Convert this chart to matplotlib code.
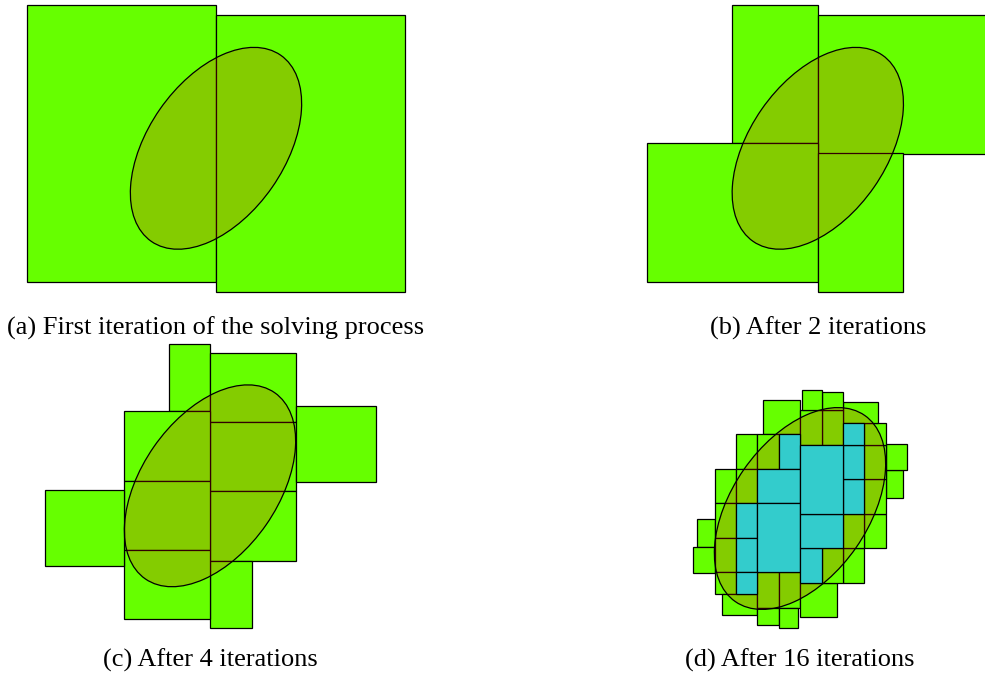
#!/usr/bin/env python3
"""
Paving of an ellipse by interval boxes, four stages of the solver.
"""

import matplotlib
matplotlib.use('Agg')  # no display
import matplotlib.pyplot as plt
from matplotlib.patches import Rectangle, Ellipse

plt.rcParams['font.family'] = ['Liberation Serif', 'DejaVu Serif']

FIG_W, FIG_H = 985, 677
DPI = 100

GREEN = '#66ff00'
CYAN = '#33cccc'

# the constraint: tilted ellipse centred on the origin (world units)
ELLIPSE_WIDTH = 226.7
ELLIPSE_HEIGHT = 136.7
ELLIPSE_ANGLE = 55.2

# boxes as (x0, x1, y0, y1) in world units, origin = ellipse centre
boxes_a = [
    (-189.0, 0.0, -133.5, 143.5),
    (0.0, 189.0, -143.5, 133.5),
]

boxes_b = [
    (-85.5, 0.0, 5.2, 143.5),
    (0.0, 171.0, -5.2, 133.5),
    (-171.0, 0.0, -133.5, 5.2),
    (0.0, 85.5, -143.5, -5.2),
]

boxes_c = [
    (-41.5, 0.0, 74.7, 141.8),
    (0.0, 85.7, 63.8, 133.3),
    (0.0, 85.7, -5.3, 63.8),
    (0.0, 85.7, -74.7, -5.3),
    (0.0, 41.5, -141.8, -74.7),
    (85.7, 165.5, 4.3, 80.3),
    (-85.7, 0.0, 5.3, 74.7),
    (-85.7, 0.0, -63.8, 5.3),
    (-85.7, 0.0, -133.3, -63.8),
    (-165.5, -85.7, -80.3, -4.3),
]

# boundary boxes after 16 iterations
boxes_d = [
    (-102.7, -85.5, -38.8, -10.8),
    (-107.3, -85.5, -64.2, -38.8),
    (-85.5, -64.2, 5.5, 39.6),
    (-85.5, -64.2, -29.3, 5.5),
    (-85.5, -64.2, -63.9, -29.3),
    (-85.5, -64.2, -85.5, -63.9),
    (-64.2, -42.7, 39.6, 74.5),
    (-64.2, -42.7, 5.5, 39.6),
    (-77.7, -42.7, -106.7, -85.5),
    (-37.0, 0.0, 74.5, 108.6),
    (-42.7, -21.5, 39.6, 74.5),
    (-42.7, -21.5, -99.0, -63.9),
    (-21.5, 0.0, -99.0, -63.9),
    (-42.7, -21.5, -116.8, -99.0),
    (-21.5, -1.7, -119.0, -99.0),
    (85.5, 102.7, 10.8, 38.8),
    (85.5, 107.3, 38.8, 64.2),
    (64.2, 85.5, -39.6, -5.5),
    (64.2, 85.5, -5.5, 29.3),
    (64.2, 85.5, 29.3, 63.9),
    (64.2, 85.5, 63.9, 85.5),
    (42.7, 64.2, -74.5, -39.6),
    (42.7, 64.2, -39.6, -5.5),
    (42.7, 77.7, 85.5, 106.7),
    (0.0, 37.0, -108.6, -74.5),
    (21.5, 42.7, -74.5, -39.6),
    (21.5, 42.7, 63.9, 99.0),
    (0.0, 21.5, 63.9, 99.0),
    (21.5, 42.7, 99.0, 116.8),
    (1.7, 21.5, 99.0, 119.0),
]

# boxes proven inside the ellipse after 16 iterations
inner_d = [
    (-64.2, -42.7, -29.3, 5.5),
    (-64.2, -42.7, -63.9, -29.3),
    (-64.2, -42.7, -85.5, -63.9),
    (-21.5, 0.0, 39.6, 74.5),
    (-42.7, 0.0, 5.5, 39.6),
    (-42.7, 0.0, -63.9, 5.5),
    (42.7, 64.2, -5.5, 29.3),
    (42.7, 64.2, 29.3, 63.9),
    (42.7, 64.2, 63.9, 85.5),
    (0.0, 21.5, -74.5, -39.6),
    (0.0, 42.7, -39.6, -5.5),
    (0.0, 42.7, -5.5, 63.9),
]

captions = [
    '(a) First iteration of the solving process',
    '(b) After 2 iterations',
    '(c) After 4 iterations',
    '(d) After 16 iterations',
]


def draw_panel(fig, centre, caption_y, boxes, inner, caption):
    """
    Draw one stage: green boxes, the ellipse on top, inner boxes above it.
    centre is the ellipse centre in figure pixels (x, y from the top).
    """
    cx, cy = centre
    ax = fig.add_axes([0, 0, 1, 1])
    ax.set_xlim(-cx, FIG_W - cx)
    ax.set_ylim(cy - FIG_H, cy)
    ax.axis('off')

    for x0, x1, y0, y1 in boxes:
        ax.add_patch(Rectangle((x0, y0), x1 - x0, y1 - y0, facecolor=GREEN,
                               edgecolor='black', linewidth=0.9, zorder=1))

    ax.add_patch(Ellipse((0, 0), ELLIPSE_WIDTH, ELLIPSE_HEIGHT, angle=ELLIPSE_ANGLE,
                         facecolor=(1.0, 0.0, 0.0, 0.2), edgecolor='black',
                         linewidth=0.9, zorder=2))

    for x0, x1, y0, y1 in inner:
        ax.add_patch(Rectangle((x0, y0), x1 - x0, y1 - y0, facecolor=CYAN,
                               edgecolor='black', linewidth=0.9, zorder=3))

    fig.text(cx / FIG_W, 1 - caption_y / FIG_H, caption,
             ha='center', va='baseline', fontsize=19)


fig = plt.figure(figsize=(FIG_W / DPI, FIG_H / DPI), dpi=DPI)

draw_panel(fig, (216.0, 148.3), 335.0, boxes_a, [], captions[0])
draw_panel(fig, (817.8, 148.3), 335.0, boxes_b, [], captions[1])
draw_panel(fig, (210.0, 485.8), 667.0, boxes_c, [], captions[2])
draw_panel(fig, (800.0, 508.5), 667.0, boxes_d, inner_d, captions[3])

fig.savefig('out.png', dpi=DPI)
plt.close(fig)
